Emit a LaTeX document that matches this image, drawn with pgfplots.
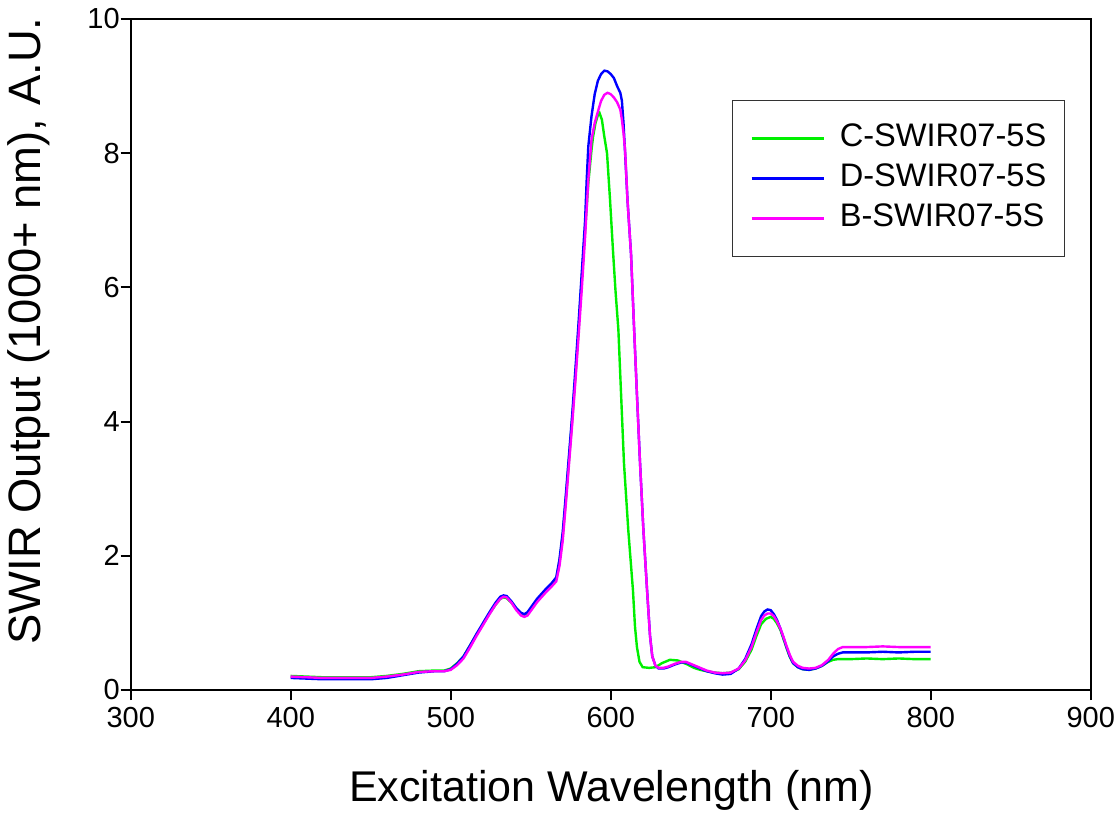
\documentclass[border=0pt]{standalone}
\usepackage{fontspec}
\setmainfont{Liberation Sans}
\usepackage{pgfplots}
\pgfplotsset{compat=1.18}
\usepackage{pgfplotstable}

\pgfplotstableread{
x y
400 0.21
410 0.20
420 0.19
430 0.19
440 0.19
450 0.19
460 0.21
470 0.24
480 0.28
490 0.29
496 0.29
500 0.32
504 0.40
508 0.50
512 0.66
516 0.82
520 0.97
524 1.13
528 1.27
531 1.36
533 1.38
535 1.37
538 1.30
541 1.21
544 1.14
546 1.12
548 1.14
551 1.23
554 1.33
557 1.41
560 1.48
563 1.56
566 1.66
568 1.92
570 2.30
572 2.85
574 3.45
576 4.05
578 4.70
580 5.40
582 6.15
584 6.85
586 7.55
588 8.05
589 8.25
590.5 8.45
592 8.57
593 8.60
594.5 8.50
596 8.25
597.7 8.00
599.6 7.30
601.4 6.56
603 5.95
604.8 5.37
606.5 4.40
608.3 3.38
611 2.38
613.9 1.49
615.2 0.94
616.4 0.64
618 0.42
620 0.34
624 0.33
628 0.34
632 0.40
637 0.45
642 0.44
648 0.38
652 0.33
656 0.30
660 0.28
665 0.26
670 0.25
675 0.26
680 0.31
684 0.42
688 0.60
691 0.80
694 0.98
697 1.06
700 1.09
702 1.06
704 0.99
706 0.90
708 0.76
710 0.62
712 0.49
714 0.40
717 0.34
720 0.31
724 0.30
728 0.32
732 0.36
736 0.42
739 0.45
742 0.46
750 0.46
760 0.47
770 0.46
780 0.47
790 0.46
800 0.46
}\greendata

\pgfplotstableread{
x y
400 0.18
410 0.17
420 0.16
430 0.16
440 0.16
450 0.16
460 0.18
470 0.22
480 0.26
490 0.28
496 0.28
500 0.31
504 0.39
508 0.50
512 0.66
516 0.83
520 0.99
524 1.15
528 1.30
531 1.39
533 1.41
535 1.40
538 1.32
541 1.22
544 1.15
546 1.13
548 1.16
551 1.26
554 1.36
557 1.44
560 1.52
563 1.59
566 1.68
568 1.95
570 2.35
572 2.92
574 3.52
576 4.12
578 4.80
580 5.50
582 6.25
584 7.00
585 7.60
586 8.10
588 8.55
590 8.88
592 9.08
594 9.18
596 9.23
598 9.22
600 9.18
602 9.12
604 9.00
606 8.90
607 8.78
608 8.45
609 8.00
610.5 7.30
612.7 6.50
614.6 5.40
616.5 4.35
618.3 3.40
620.4 2.40
622.7 1.50
624.6 0.80
626 0.50
628 0.36
630 0.32
633 0.32
636 0.34
640 0.38
644 0.41
647 0.41
650 0.38
655 0.33
660 0.28
665 0.25
670 0.23
675 0.24
680 0.32
684 0.46
688 0.68
691 0.90
694 1.10
696 1.17
698 1.20
700 1.19
702 1.13
704 1.04
706 0.92
708 0.78
710 0.63
712 0.50
714 0.40
717 0.34
720 0.31
724 0.30
728 0.32
732 0.36
736 0.43
739 0.50
742 0.54
745 0.56
760 0.56
770 0.57
780 0.56
790 0.57
800 0.57
}\bluedata

\pgfplotstableread{
x y
400 0.20
410 0.19
420 0.18
430 0.18
440 0.18
450 0.18
460 0.20
470 0.23
480 0.27
490 0.28
496 0.28
500 0.30
504 0.37
508 0.47
512 0.63
516 0.80
520 0.96
524 1.12
528 1.27
531 1.36
533 1.39
535 1.38
538 1.30
541 1.19
544 1.11
546 1.09
548 1.11
551 1.21
554 1.31
557 1.39
560 1.47
563 1.54
566 1.62
568 1.85
570 2.22
572 2.78
574 3.38
576 3.98
578 4.62
580 5.30
582 6.00
584 6.75
586 7.60
588 8.20
590 8.45
592 8.62
594 8.78
596 8.87
598 8.90
600 8.88
602 8.83
604 8.76
606 8.65
607 8.50
608 8.30
609 8.05
610.5 7.30
612.7 6.50
614.6 5.40
616.5 4.35
618.3 3.40
620.4 2.40
622.7 1.50
624.6 0.80
626 0.50
628 0.36
630 0.33
633 0.33
636 0.35
640 0.39
644 0.42
647 0.42
650 0.39
655 0.34
660 0.29
665 0.26
670 0.25
675 0.26
680 0.32
684 0.44
688 0.64
691 0.85
694 1.04
696 1.11
698 1.14
700 1.14
702 1.10
704 1.02
706 0.92
708 0.79
710 0.65
712 0.52
714 0.42
717 0.36
720 0.33
724 0.32
728 0.33
732 0.37
736 0.45
739 0.54
742 0.61
745 0.64
760 0.64
770 0.65
780 0.64
790 0.64
800 0.64
}\pinkdata

\definecolor{cgreen}{RGB}{0,240,0}
\definecolor{cblue}{RGB}{0,0,255}
\definecolor{cpink}{RGB}{255,0,255}

\begin{document}
\begin{tikzpicture}
\useasboundingbox (0,0) rectangle (559pt,408pt);
\begin{axis}[
  at={(65.35pt,63pt)}, anchor=south west,
  scale only axis, width=480pt, height=335.5pt,
  xmin=300, xmax=900, ymin=0, ymax=10,
  xtick={300,400,...,900}, ytick={0,2,...,10},
  xtick pos=lower, ytick pos=left,
  tick align=outside, major tick length=5pt,
  axis line style={line width=1pt},
  every tick/.style={black, line width=1pt},
  tick label style={font=\fontsize{14.5}{17}\selectfont},
  yticklabel style={xshift=3pt},
  /pgf/number format/assume math mode=true,
  xlabel={Excitation Wavelength (nm)},
  ylabel={SWIR Output (1000+ nm), A.U.},
  label style={font=\fontsize{21.5}{25}\selectfont},
  xlabel style={at={(axis description cs:0.5007,-0.149)}, anchor=center},
  ylabel style={at={(axis description cs:-0.1059,0.535)}, anchor=center, font=\fontsize{22.7}{26}\selectfont},
  legend style={at={(axis description cs:0.626,0.879)}, anchor=north west,
    draw=black!80, line width=0.6pt, inner xsep=9pt, inner ysep=9pt,
    font=\fontsize{16.3}{19}\selectfont,
    nodes={inner sep=0pt, text height=14pt, text depth=6pt},
    row sep=0pt},
  legend cell align=left,
  legend image code/.code={\draw[#1, line width=1.3pt] (0pt,0pt) -- (36pt,0pt); \path (43.5pt,0pt);},
]
\addplot[cgreen, line width=1.2pt] table {\greendata};
\addplot[cblue, line width=1.2pt] table {\bluedata};
\addplot[cpink, line width=1.2pt] table {\pinkdata};
\legend{C-SWIR07-5S, D-SWIR07-5S, B-SWIR07-5S}
\end{axis}
\end{tikzpicture}
\end{document}
